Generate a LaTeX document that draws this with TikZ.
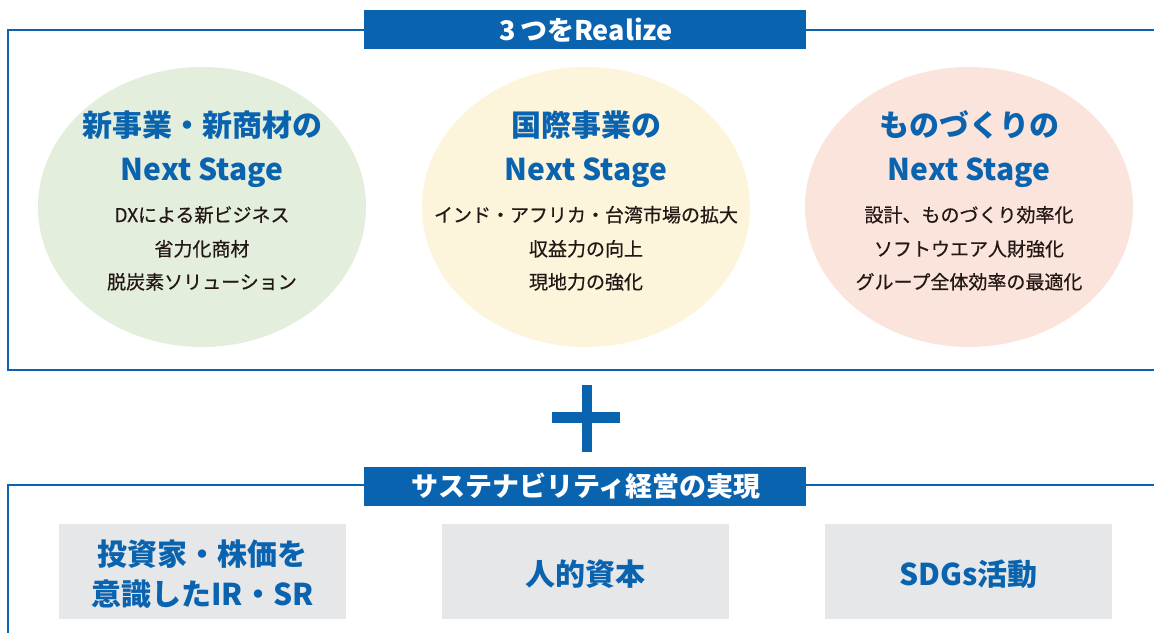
\documentclass[tikz,border=0pt]{standalone}
\usepackage{fontspec}
\setmainfont{Noto Sans CJK JP}
\newfontfamily\medfont{Noto Sans CJK JP}[FakeBold=0.6]
\usetikzlibrary{shapes.geometric}
\definecolor{cblue}{HTML}{0A63AF}
\definecolor{cblack}{HTML}{231815}
\definecolor{cgreen}{HTML}{E3EFDC}
\definecolor{cyellow}{HTML}{FDF4DC}
\definecolor{cpink}{HTML}{FBE4DB}
\definecolor{cgray}{HTML}{E6E7E8}
\begin{document}
\begin{tikzpicture}[x=1pt,y=-1pt,
  ell/.style={ellipse, minimum width=328pt, minimum height=280pt, inner sep=0pt},
  bar/.style={fill=cblue, minimum width=442pt, minimum height=39pt, inner sep=0pt},
  gbox/.style={fill=cgray, minimum width=287pt, minimum height=95pt, inner sep=0pt},
  frame/.style={draw=cblue, line width=2pt},
  bartext/.style={font=\bfseries\fontsize{27}{30}\selectfont, text=white, anchor=base, inner sep=0pt},
  ttl/.style={font=\bfseries\fontsize{30}{36}\selectfont, text=cblue, anchor=base, inner sep=0pt},
  itm/.style={font=\medfont\fontsize{19}{24}\selectfont, text=cblack, anchor=base, inner sep=0pt},
  boxtext/.style={font=\bfseries\fontsize{30}{36}\selectfont, text=cblue, anchor=base, inner sep=0pt},
]
\useasboundingbox (0,0) rectangle (1154,632);
\clip (0,0) rectangle (1154,632);
\fill[white] (0,0) rectangle (1154,632);

% frames
\draw[frame] (1170,30) -- (8,30) -- (8,370) -- (1170,370);
\draw[frame] (1170,485) -- (8,485) -- (8,650);

% top title bar
\node[bar] (t1) at (585,29.5) {};
\node[bartext] (t1txt) at (586,40.5) {3\,つをRealize};

% ellipses
\node[ell, fill=cgreen] (e1) at (202,207) {};
\node[ell, fill=cyellow] (e2) at (586,207) {};
\node[ell, fill=cpink] (e3) at (969,207) {};

\node[ttl] (e1a) at (202,136) {新事業・新商材の};
\node[ttl] (e1b) at (202,180) {Next Stage};
\node[itm] (e1c) at (202,222) {DXによる新ビジネス};
\node[itm] (e1d) at (202,256) {省力化商材};
\node[itm] (e1e) at (202,289) {脱炭素ソリューション};

\node[ttl] (e2a) at (586,136) {国際事業の};
\node[ttl] (e2b) at (586,180) {Next Stage};
\node[itm] (e2c) at (586,222) {インド・アフリカ・台湾市場の拡大};
\node[itm] (e2d) at (586,256) {収益力の向上};
\node[itm] (e2e) at (586,289) {現地力の強化};

\node[ttl] (e3a) at (969,136) {ものづくりの};
\node[ttl] (e3b) at (969,180) {Next Stage};
\node[itm] (e3c) at (969,222) {設計、ものづくり効率化};
\node[itm] (e3d) at (969,256) {ソフトウエア人財強化};
\node[itm] (e3e) at (969,289) {グループ全体効率の最適化};

% plus sign
\fill[cblue] (552,412) rectangle (620,423);
\fill[cblue] (582,385) rectangle (592,452);

% bottom title bar
\node[bar] (t2) at (585,486) {};
\node[bartext] (t2txt) at (586,496.5) {サステナビリティ経営の実現};

% bottom boxes
\node[gbox] (b1) at (202.5,571.5) {};
\node[gbox] (b2) at (585.5,571.5) {};
\node[gbox] (b3) at (968.5,571.5) {};
\node[boxtext] (b1a) at (202.5,565) {投資家・株価を};
\node[boxtext] (b1b) at (202.5,605) {意識したIR・SR};
\node[boxtext] (b2a) at (585.5,585) {人的資本};
\node[boxtext] (b3a) at (968.5,585) {SDGs活動};
\end{tikzpicture}
\end{document}
